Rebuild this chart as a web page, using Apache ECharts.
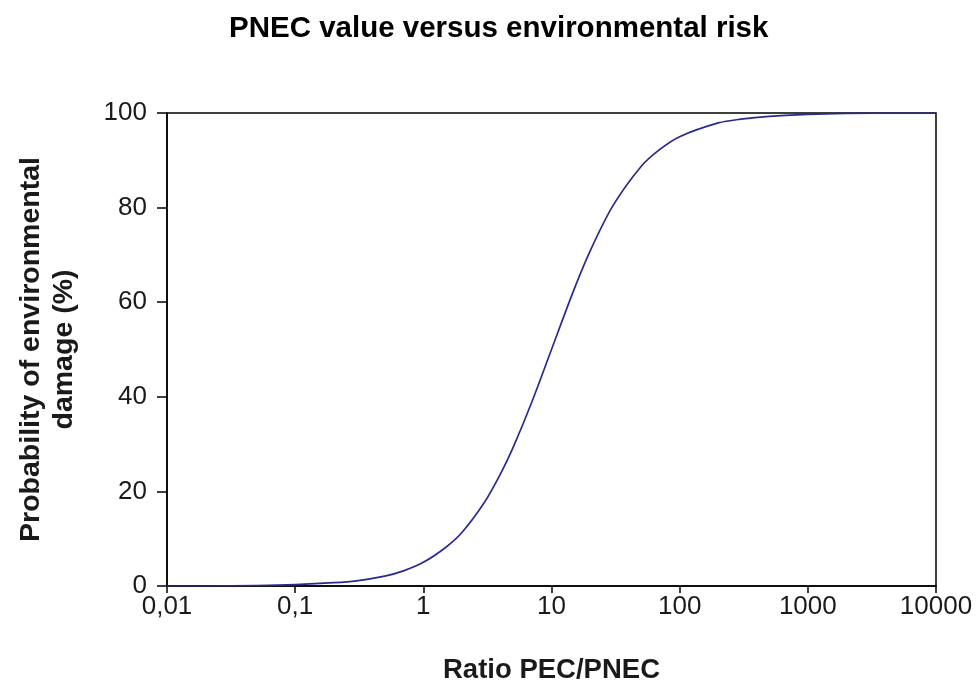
<!DOCTYPE html>
<html>
<head>
<meta charset="utf-8">
<script src="https://cdn.jsdelivr.net/npm/echarts@6/dist/echarts.min.js"></script>
<style>
  html, body { margin: 0; padding: 0; background: #ffffff; }
  #chart { width: 976px; height: 688px; }
</style>
</head>
<body>
<div id="chart"></div>
<script>
// PEC/PNEC ratio (log scale) and probability of environmental damage (%)
const ratio = [0.01, 0.02, 0.05, 0.1, 0.2, 0.3, 0.5, 0.7, 1, 1.5, 2, 3, 4, 5, 7, 10,
               15, 20, 30, 50, 70, 100, 200, 300, 500, 1000, 2000, 5000, 10000];
const probability = [0.0, 0.0, 0.1, 0.3, 0.7, 1.1, 2.1, 3.2, 5.0, 8.2, 11.3, 17.7, 23.7, 29.2, 38.8, 50.0,
                     62.7, 70.8, 80.3, 88.7, 92.3, 95.0, 97.9, 98.7, 99.3, 99.7, 99.9, 100, 100];

const yTicks = { min: 0, max: 100, step: 20 };

const titleText = 'PNEC value versus environmental risk';
const xName = 'Ratio PEC/PNEC';
const yName = 'Probability of environmental\ndamage (%)';

const FONT = '"Liberation Sans", Arial, sans-serif';

// log tick labels with a decimal comma: 0,01  0,1  1  10 ...
function formatRatio(v) {
  const e = Math.round(Math.log10(v));
  if (e < 0) return '0,' + '0'.repeat(-e - 1) + '1';
  return String(Math.round(Math.pow(10, e)));
}

const chart = echarts.init(document.getElementById('chart'), null, { renderer: 'canvas' });

chart.setOption({
  backgroundColor: '#ffffff',
  animation: false,
  title: {
    text: titleText,
    left: 224,
    top: 9,
    textStyle: { fontFamily: FONT, fontSize: 29.5, fontWeight: 'bold', color: '#000000' }
  },
  grid: {
    left: 167, right: 40, top: 113, bottom: 102,
    containLabel: false,
    outerBoundsMode: 'none',
    show: true, borderColor: '#000000', borderWidth: 1.5, backgroundColor: 'transparent'
  },
  xAxis: {
    type: 'log',
    logBase: 10,
    min: 0.01,
    max: 10000,
    name: xName,
    nameLocation: 'middle',
    nameGap: 70,
    nameTextStyle: { fontFamily: FONT, fontSize: 27.5, fontWeight: 'bold', color: '#1a1a1a' },
    axisLine: { show: true, lineStyle: { color: '#000000', width: 1.5 } },
    axisTick: { show: true, inside: false, length: 7, lineStyle: { color: '#000000', width: 1.5 } },
    minorTick: { show: false },
    splitLine: { show: false },
    axisLabel: {
      formatter: formatRatio,
      margin: 8,
      fontFamily: FONT, fontSize: 26, color: '#1a1a1a'
    }
  },
  yAxis: {
    type: 'value',
    min: yTicks.min,
    max: yTicks.max,
    interval: yTicks.step,
    name: yName,
    nameLocation: 'middle',
    nameGap: 86,
    nameRotate: 90,
    nameTextStyle: { fontFamily: FONT, fontSize: 28.5, fontWeight: 'bold', color: '#1a1a1a', lineHeight: 33, align: 'center' },
    axisLine: { show: true, lineStyle: { color: '#000000', width: 1.5 } },
    axisTick: { show: true, inside: false, length: 10, lineStyle: { color: '#000000', width: 1.5 } },
    splitLine: { show: false },
    axisLabel: {
      margin: 20,
      fontFamily: FONT, fontSize: 26, color: '#1a1a1a'
    }
  },
  series: [{
    type: 'line',
    data: ratio.map((r, i) => [r, probability[i]]),
    smooth: 0.3,
    showSymbol: false,
    symbol: 'none',
    clip: true,
    lineStyle: { color: '#2a2a8c', width: 1.7 }
  }]
});
</script>
</body>
</html>
